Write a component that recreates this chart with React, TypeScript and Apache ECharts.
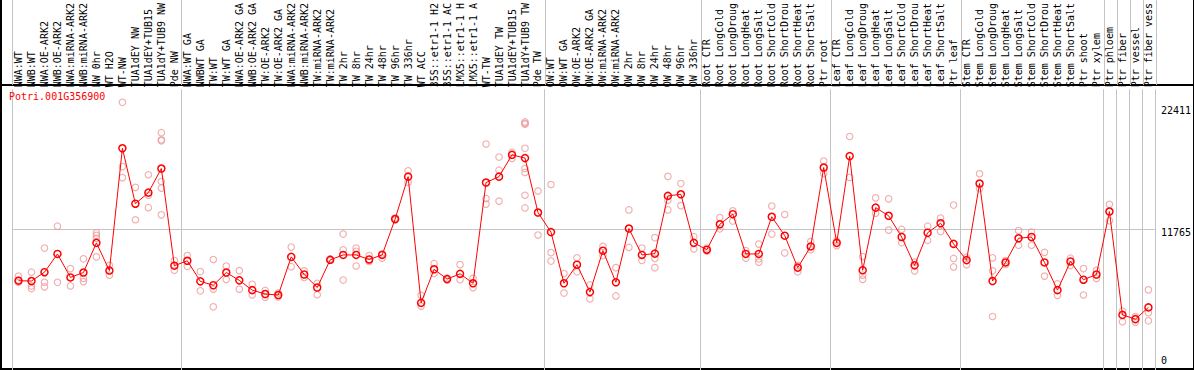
import React, { useEffect, useRef } from 'react';
import * as echarts from 'echarts';

const GENE = 'Potri.001G356900';

const categories = [
  'NWA:WT', 'NWB:WT', 'NWA:OE-ARK2', 'NWB:OE-ARK2', 'NWA:miRNA-ARK2', 'NWB:miRNA-ARK2', 'NW 0hr', 'WT H2O', 'WT-NW',
  'TUA1dEY NW', 'TUA1dEY+TUB15', 'TUA1dY+TUB9 NW', 'Pde NW',
  'NWA:WT GA', 'NWBWT GA', 'TW:WT', 'TW:WT GA', 'NWA:OE-ARK2 GA', 'NWB:OE-ARK2 GA', 'TW:OE-ARK2', 'TW:OE-ARK2 GA',
  'NWA:miRNA-ARK2', 'NWB:miRNA-ARK2', 'TW:miRNA-ARK2', 'TW:miRNA-ARK2', 'TW 2hr', 'TW 8hr', 'TW 24hr', 'TW 48hr',
  'TW 96hr', 'TW 336hr', 'WT ACC', '35S::etr1-1 H2', '35S::etr1-1 AC', 'LMX5::etr1-1 H', 'LMX5::etr1-1 A', 'WT-TW',
  'TUA1dEY TW', 'TUA1dEY+TUB15', 'TUA1dY+TUB9 TW', 'Pde TW',
  'OW:WT', 'OW:WT GA', 'OW:OE-ARK2', 'OW:OE-ARK2 GA', 'OW:miRNA-ARK2', 'OW:miRNA-ARK2', 'OW 2hr', 'OW 8hr', 'OW 24hr',
  'OW 48hr', 'OW 96hr', 'OW 336hr',
  'Root CTR', 'Root LongCold', 'Root LongDroug', 'Root LongHeat', 'Root LongSalt', 'Root ShortCold', 'Root ShortDrou',
  'Root ShortHeat', 'Root ShortSalt', 'Ptr root',
  'Leaf CTR', 'Leaf LongCold', 'Leaf LongDroug', 'Leaf LongHeat', 'Leaf LongSalt', 'Leaf ShortCold', 'Leaf ShortDrou',
  'Leaf ShortHeat', 'Leaf ShortSalt', 'Ptr leaf',
  'Stem CTR', 'Stem LongCold', 'Stem LongDroug', 'Stem LongHeat', 'Stem LongSalt', 'Stem ShortCold', 'Stem ShortDrou',
  'Stem ShortHeat', 'Stem ShortSalt', 'Ptr shoot', 'Ptr xylem',
  'Ptr phloem', 'Ptr fiber', 'Ptr vessel', 'Ptr fiber vess',
];

const means = [
  7478, 7450, 8188, 9717, 7751, 8160, 10645, 8324, 18562, 13921, 14849, 16869, 8734,
  9144, 7423, 7096, 8160, 7505, 6687, 6359, 6277, 9471, 7996, 6905, 9225, 9635, 9635, 9253, 9635, 12638, 16187, 5622,
  8434, 7614, 8051, 7260, 15695, 16187, 18016, 17743, 13184,
  11546, 7260, 8816, 6523, 9990, 7341, 11846, 9635, 9744, 14576, 14713, 10645,
  10072, 12201, 13047, 9717, 9717, 12829, 11246, 8570, 10345, 16951,
  10645, 17907, 8352, 13593, 12911, 11136, 8761, 11491, 12283, 10563,
  9198, 15613, 7450, 9007, 11027, 11136, 9007, 6687, 9089, 7560, 7996,
  13266, 4612, 4257, 5240,
];

const replicates = [
  [7860, 7530, 7340], [8190, 7040, 6820], [10210, 7340, 6960], [12040, 7340], [8490, 7040], [9310, 7670, 7400],
  [11490, 11270, 11030, 9470], [8760, 7940], [22411, 17030, 16110], [15290, 12580], [16350, 14630, 13590],
  [19870, 19270, 19190, 15780, 15230, 12990], [9170, 8350],
  [9580, 8680], [8240, 6630], [9250, 6770, 5290], [8710, 7590], [8320, 6770], [7180, 6280], [6660, 6090], [6440, 6110],
  [10290, 8650], [8300, 7750], [7260, 6300], [9300, 9170], [11380, 10070, 7530], [10210, 9940, 8710], [9580, 9090],
  [9720, 9360], [12720, 12560], [16680, 15720], [6250, 5350], [8900, 8080], [7700, 7530], [8820, 7560], [7670, 6900],
  [18920, 14360, 13890], [17830, 16730, 14140], [18230, 17720],
  [20770, 20660, 20580, 18560, 16870, 16540, 14630, 13570], [14990, 11300],
  [15530, 9830, 9120], [8080, 6440], [9390, 8220], [7120, 5950], [10350, 9580], [8570, 6200], [13400, 10260],
  [10210, 9170], [11080, 9340, 8570], [16210, 14220, 13400], [15610, 13760], [11160, 10130],
  [10210, 9940], [12770, 11820], [13320, 12470], [9990, 9360], [10540, 9310, 9030], [13730, 11380], [13020, 9800],
  [8760, 8220], [10750, 10070], [17500, 16460],
  [10810, 10400], [19550, 16130], [9500, 7940, 7590], [14410, 13130], [14330, 11710], [11770, 10670], [9030, 8300],
  [12040, 10860], [12720, 11600], [13810, 9340, 8630],
  [9440, 8820], [16430, 15180], [9390, 8300, 4480], [9170, 8840], [11680, 10450], [11550, 10450], [9850, 7860],
  [7210, 6250], [9360, 8760], [8490, 6280], [8350, 7670],
  [13870, 12500], [4940, 4040], [4480, 4010], [6710, 4800, 4120],
];

const groupStarts = [0, 13, 41, 53, 63, 73, 84, 85, 86, 87];
const yLabelValues = [0, 11765, 22411];
const midLine = 11765;
const yMax = 23503;

export default function App() {
  const ref = useRef<HTMLDivElement>(null);

  useEffect(() => {
    const chart = echarts.init(ref.current!, undefined, { renderer: 'svg' });
    const font = 'DejaVu Sans Mono';
    const gridLeft = 12;
    const gridWidth = 13 * categories.length;
    const splitFn = (i: number) => groupStarts.indexOf(i) >= 0;
    const repData: number[][] = [];
    replicates.forEach((arr, i) => arr.forEach((v) => repData.push([i, v])));
    const gray = '#c4c4c4';

    chart.setOption({
      animation: false,
      title: {
        text: GENE,
        left: 9,
        top: 91,
        padding: 0,
        textStyle: { color: '#ff0000', fontFamily: font, fontSize: 10, fontWeight: 'normal' },
      },
      grid: [
        { left: gridLeft, top: 0, width: gridWidth, height: 85 },
        { left: gridLeft, top: 85, width: gridWidth, height: 287 },
      ],
      xAxis: [
        {
          type: 'category',
          gridIndex: 0,
          data: categories,
          axisLine: { show: false },
          axisTick: { show: false },
          axisLabel: { show: false },
          splitLine: { show: true, interval: splitFn, lineStyle: { color: gray, width: 1 } },
        },
        {
          type: 'category',
          gridIndex: 1,
          position: 'top',
          data: categories,
          axisLine: { show: false },
          axisTick: { show: false },
          axisLabel: {
            interval: 0,
            rotate: 90,
            margin: 2,
            padding: [3, 0, 0, 0],
            fontFamily: font,
            fontSize: 10,
            color: '#000',
          },
          splitLine: { show: true, interval: splitFn, lineStyle: { color: gray, width: 1 } },
        },
      ],
      yAxis: [
        { type: 'value', gridIndex: 0, show: false },
        {
          type: 'value',
          gridIndex: 1,
          min: 0,
          max: yMax,
          position: 'right',
          axisLine: { show: false },
          axisTick: { show: false },
          splitLine: { show: false },
          axisLabel: {
            customValues: yLabelValues,
            margin: 6,
            fontFamily: font,
            fontSize: 10,
            color: '#000',
            formatter: (v: number) => (v === 0 ? `{z|${v}}` : v === midLine ? `{m|${v}}` : `{a|${v}}`),
            rich: {
              a: { fontFamily: font, fontSize: 10, color: '#000', padding: [17, 0, 0, 0] },
              m: { fontFamily: font, fontSize: 10, color: '#000', padding: [7, 0, 0, 0] },
              z: { fontFamily: font, fontSize: 10, color: '#000', padding: [0, 0, 20, 0] },
            },
          },
        },
      ],
      series: [
        {
          type: 'scatter',
          xAxisIndex: 1,
          yAxisIndex: 1,
          data: repData,
          symbol: 'circle',
          symbolSize: 6.5,
          silent: true,
          z: 2,
          itemStyle: { color: 'rgba(0,0,0,0)', borderColor: '#ee9999', borderWidth: 1.1 },
        },
        {
          type: 'line',
          xAxisIndex: 1,
          yAxisIndex: 1,
          data: means,
          symbol: 'circle',
          symbolSize: 7,
          showAllSymbol: true,
          silent: true,
          z: 3,
          lineStyle: { color: '#ff0000', width: 1 },
          itemStyle: { color: 'rgba(0,0,0,0)', borderColor: '#ff0000', borderWidth: 1.5 },
          markLine: {
            silent: true,
            z: 1,
            symbol: ['none', 'none'],
            label: { show: false },
            lineStyle: { color: gray, width: 1, type: 'solid' },
            data: [{ yAxis: midLine }],
          },
        },
      ],
      graphic: [
        { type: 'line', silent: true, shape: { x1: 1, y1: 0, x2: 1, y2: 370 }, style: { stroke: '#000', lineWidth: 2 } },
        { type: 'line', silent: true, shape: { x1: 1193.5, y1: 0, x2: 1193.5, y2: 370 }, style: { stroke: '#000', lineWidth: 1 } },
        { type: 'line', silent: true, shape: { x1: 0, y1: 85, x2: 1194, y2: 85 }, style: { stroke: '#000', lineWidth: 2 } },
        { type: 'line', silent: true, shape: { x1: 0, y1: 369, x2: 1194, y2: 369 }, style: { stroke: '#000', lineWidth: 2 } },
      ],
    });

    return () => chart.dispose();
  }, []);

  return <div ref={ref} style={{ position: 'absolute', left: 0, top: 0, width: 1194, height: 370 }} />;
}
